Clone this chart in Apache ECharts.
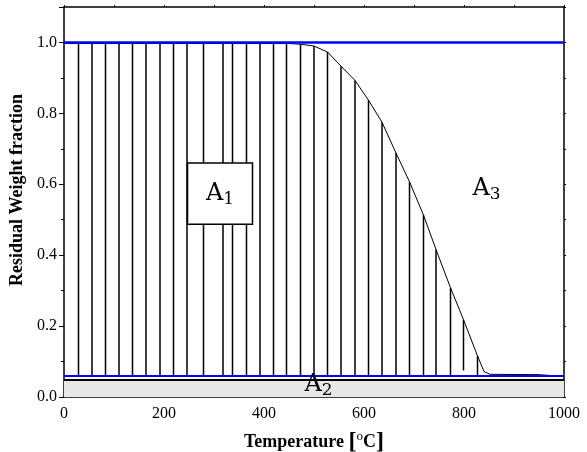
<!DOCTYPE html>
<html>
<head>
<meta charset="utf-8">
<script src="https://cdn.jsdelivr.net/npm/echarts@6/dist/echarts.min.js"></script>
<style>
  html, body { margin: 0; padding: 0; background: #fff; }
  #chart { width: 587px; height: 452px; }
</style>
</head>
<body>
<div id="chart"></div>
<script>
// TGA curve
var curveX = [0, 100, 200, 300, 400, 450, 473, 500, 527, 554, 582, 609, 636, 664, 691, 719, 744, 773, 799, 827, 840, 852, 950, 1000];
var curveY = [0.997, 0.997, 0.997, 0.997, 0.997, 0.997, 0.995, 0.99, 0.973, 0.933, 0.893, 0.837, 0.775, 0.688, 0.607, 0.513, 0.416, 0.308, 0.218, 0.116, 0.072, 0.064, 0.063, 0.058];

// hatching lines under the curve
var hatchX = [29, 56, 83, 110, 137, 164, 192, 219, 246, 279, 318, 337, 365, 392, 419, 445, 473, 500, 527, 554, 582, 609, 636, 664, 691, 719, 744, 773, 799, 827];
var hatchTop = [0.997, 0.997, 0.997, 0.997, 0.997, 0.997, 0.997, 0.997, 0.997, 0.997, 0.997, 0.997, 0.997, 0.997, 0.997, 0.997, 0.995, 0.99, 0.973, 0.933, 0.893, 0.837, 0.775, 0.688, 0.607, 0.513, 0.416, 0.308, 0.218, 0.116];
var hatchBottom = [0.057, 0.057, 0.057, 0.057, 0.057, 0.057, 0.057, 0.057, 0.057, 0.057, 0.057, 0.057, 0.057, 0.057, 0.057, 0.057, 0.057, 0.057, 0.057, 0.057, 0.057, 0.057, 0.057, 0.057, 0.057, 0.057, 0.057, 0.057, 0.075, 0.057];

var upperLevel = 0.997;   // blue line at the top
var lowerLevel = 0.057;   // blue line at the bottom
var bandTop = 0.051;      // gray residue band

// A1 box corners (data units) and the other area labels
var boxX = [247, 377];
var boxY = [0.487, 0.66];
var labelPos = [[509, 0.034], [845, 0.586]];
var labelNum = ["2", "3"];

var serif = "'Liberation Serif'";
var slab = "'DejaVu Serif'";

var hatchData = hatchX.map(function (x, i) { return [x, hatchBottom[i], hatchTop[i]]; });
var curveData = curveX.map(function (x, i) { return [x, curveY[i]]; });

function areaLabel(n) {
  return "{a|A}{s|" + n + "}";
}
var areaRich = {
  a: { fontFamily: slab, fontSize: 24, color: "#000", lineHeight: 28 },
  s: { fontFamily: slab, fontSize: 17, color: "#000", lineHeight: 12, verticalAlign: "bottom" }
};
var boxRich = {
  a: { fontFamily: slab, fontSize: 24, fill: "#000", lineHeight: 28 },
  s: { fontFamily: slab, fontSize: 17, fill: "#000", lineHeight: 12, verticalAlign: "bottom" }
};
var frameLine = { show: true, onZero: false, lineStyle: { color: "#000", width: 1.5 } };

var myChart = echarts.init(document.getElementById("chart"));
var option = {
  animation: false,
  backgroundColor: "#fff",
  grid: { left: 64, right: 23, top: 7, bottom: 55, outerBoundsMode: "none", containLabel: false },
  xAxis: [
    {
      type: "value",
      min: 0,
      max: 1000,
      interval: 200,
      position: "bottom",
      axisLine: frameLine,
      axisTick: { show: false },
      splitLine: { show: false },
      axisLabel: {
        color: "#000", fontFamily: serif, fontSize: 16, margin: 9,
        formatter: function (v) { return String(v); }
      },
      name: "{t|Temperature }{b|[}{o|o}{t|C}{b|]}",
      nameLocation: "middle",
      nameGap: 33,
      nameTextStyle: {
        rich: {
          t: { fontFamily: serif, fontWeight: "bold", fontSize: 18, color: "#000", lineHeight: 24 },
          b: { fontFamily: serif, fontWeight: "bold", fontSize: 24, color: "#000", lineHeight: 24 },
          o: { fontFamily: serif, fontSize: 13, color: "#000", lineHeight: 14, verticalAlign: "top" }
        }
      }
    },
    {
      type: "value",
      min: 0,
      max: 1000,
      interval: 100,
      position: "top",
      axisLine: frameLine,
      axisTick: { show: true, length: 2, lineStyle: { color: "#000" } },
      axisLabel: { show: false },
      splitLine: { show: false }
    }
  ],
  yAxis: [
    {
      type: "value",
      min: 0,
      max: 1.1,
      interval: 0.2,
      position: "left",
      axisLine: frameLine,
      axisTick: { show: true, length: 5, lineStyle: { color: "#000" } },
      minorTick: { show: true, splitNumber: 2, length: 3, lineStyle: { color: "#000" } },
      splitLine: { show: false },
      axisLabel: {
        color: "#000", fontFamily: serif, fontSize: 16, margin: 7, showMaxLabel: false,
        formatter: function (v) { return v.toFixed(1); }
      },
      name: "Residual Weight fraction",
      nameLocation: "middle",
      nameGap: 31,
      nameTextStyle: { fontFamily: serif, fontWeight: "bold", fontSize: 18, color: "#000", padding: [0, 0, 0, 24] }
    },
    {
      type: "value",
      min: 0,
      max: 1.1,
      interval: 0.1,
      position: "right",
      axisLine: frameLine,
      axisTick: { show: true, length: 2, lineStyle: { color: "#000" } },
      axisLabel: { show: false },
      splitLine: { show: false }
    }
  ],
  series: [
    {
      // gray band and the two blue levels
      type: "line",
      data: [],
      silent: true,
      z: 1,
      markArea: {
        silent: true,
        itemStyle: { color: "#e8e8e8" },
        data: [[{ xAxis: 0, yAxis: 0 }, { xAxis: 1000, yAxis: bandTop }]]
      },
      markLine: {
        silent: true,
        symbol: "none",
        label: { show: false },
        data: [
          { yAxis: bandTop, lineStyle: { color: "#000", width: 2, type: "solid" } },
          { yAxis: lowerLevel, lineStyle: { color: "#0000ff", width: 2, type: "solid" } },
          { yAxis: upperLevel, lineStyle: { color: "#0000ff", width: 2.5, type: "solid" } }
        ]
      }
    },
    {
      type: "custom",
      silent: true,
      z: 3,
      data: hatchData,
      renderItem: function (params, api) {
        var p0 = api.coord([api.value(0), api.value(1)]);
        var p1 = api.coord([api.value(0), api.value(2)]);
        return {
          type: "line",
          shape: { x1: p0[0], y1: p0[1], x2: p1[0], y2: p1[1] },
          style: { stroke: "#000", lineWidth: 1.5 }
        };
      }
    },
    {
      type: "line",
      data: curveData,
      symbol: "none",
      z: 4,
      lineStyle: { color: "#000", width: 1 }
    },
    {
      // A1 box, drawn over the hatching
      type: "custom",
      silent: true,
      z: 10,
      data: [[boxX[0], boxY[0], boxX[1], boxY[1]]],
      renderItem: function (params, api) {
        var a = api.coord([api.value(0), api.value(3)]);
        var b = api.coord([api.value(2), api.value(1)]);
        return {
          type: "rect",
          shape: { x: a[0], y: a[1], width: b[0] - a[0], height: b[1] - a[1] },
          style: { fill: "#fff", stroke: "#000", lineWidth: 1.5 },
          textContent: { style: { text: areaLabel(1), rich: boxRich } },
          textConfig: { position: "inside" }
        };
      }
    },
    {
      // A2 and A3 labels
      type: "line",
      data: [],
      silent: true,
      z: 10,
      markPoint: {
        silent: true,
        symbol: "rect",
        symbolSize: 1,
        itemStyle: { color: "rgba(0,0,0,0)" },
        label: { show: true, position: "inside", rich: areaRich },
        data: labelPos.map(function (p, i) {
          return { coord: p, label: { formatter: areaLabel(labelNum[i]) } };
        })
      }
    }
  ]
};
myChart.setOption(option);
</script>
</body>
</html>
